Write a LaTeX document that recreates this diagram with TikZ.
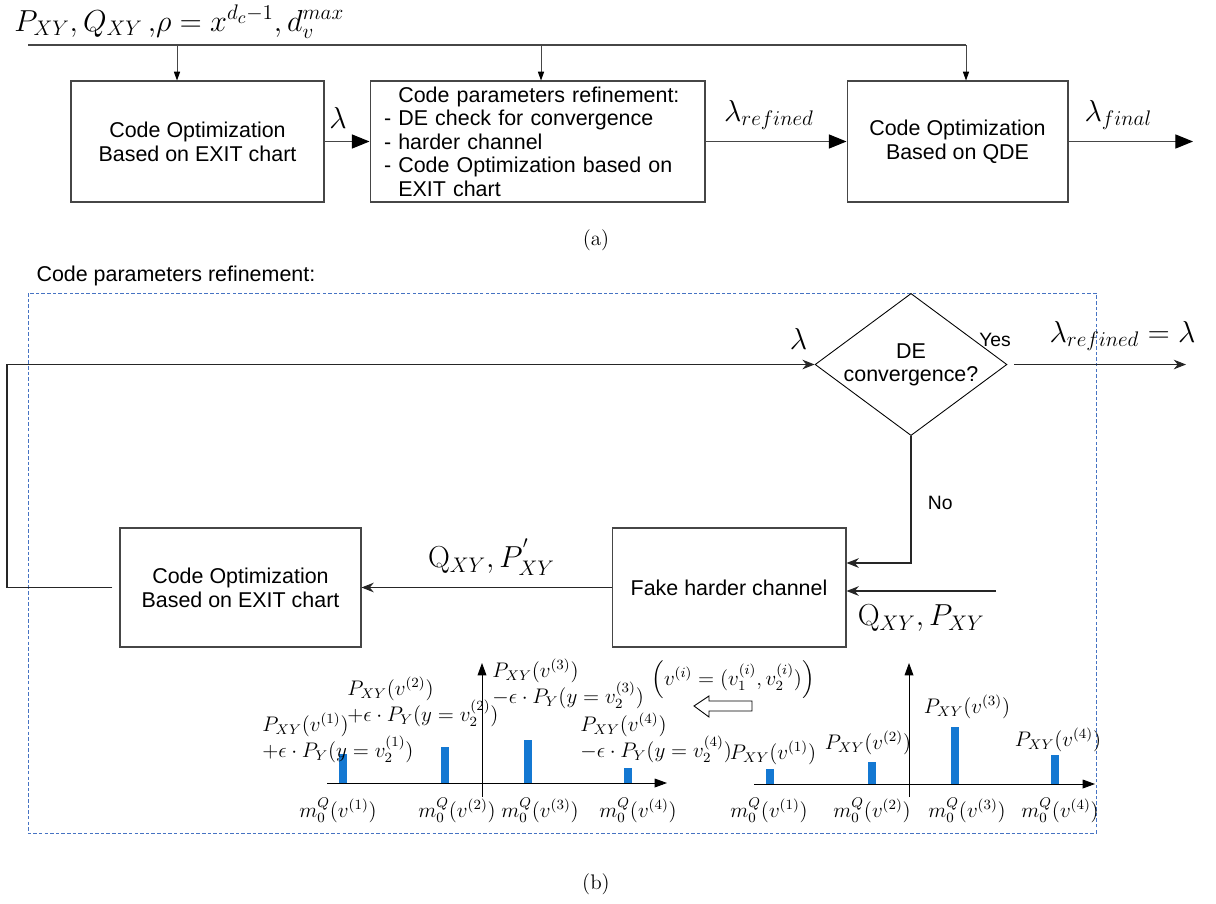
\documentclass[tikz,border=0pt]{standalone}
\usepackage{amsmath}
\usepackage{fontspec}
\setsansfont{Liberation Sans}
\usepackage{tikz}
\usetikzlibrary{shapes.geometric, arrows.meta, positioning, calc}
\definecolor{myline}{RGB}{70,70,70}
\definecolor{myframe}{RGB}{70,115,195}
\definecolor{mybar}{RGB}{20,120,210}
\tikzset{
  block/.style={rectangle, draw=myline, line width=0.6pt, align=center,
    font=\sffamily\fontsize{12.2}{13.6}\selectfont, inner sep=2pt},
  decision/.style={diamond, draw=black, line width=0.5pt, aspect=1.35,
    minimum width=3.8cm, minimum height=2.82cm, inner sep=0pt, align=center,
    font=\sffamily\fontsize{12.2}{13.2}\selectfont},
  bigarrow/.style={-{Triangle[length=10pt, width=8pt, color=black]}, line width=0.6pt, color=myline},
  smallarrow/.style={-{Triangle[length=5pt, width=3.5pt, color=black]}, line width=0.5pt, color=myline},
  arrow/.style={-{Stealth[length=7pt, width=5.5pt]}, line width=0.6pt, color=black!85},
  axis/.style={-{Triangle[length=7pt, width=5pt]}, line width=0.5pt},
  line/.style={line width=0.6pt, color=myline},
  frame/.style={draw=myframe, line width=0.5pt, dash pattern=on 2pt off 1.2pt},
  lbl/.style={font=\LARGE, text=black},
  plbl/.style={font=\large, inner sep=0pt},
  small/.style={font=\sffamily\fontsize{11}{13}\selectfont, text=black},
  capt/.style={font=\large}
}

\begin{document}
\begin{tikzpicture}[x=0.02cm, y=-0.02cm]
  \useasboundingbox (0,0) rectangle (1216,903);
  % ── (a) Design flow ─────────────────────────────────────────────────────────
  \node[lbl, anchor=base west, inner sep=0pt] (params) at (14,31)
    {$P_{XY}, Q_{XY}\,{,}\rho = x^{d_c-1}, d_v^{max}$};
  \node[block, minimum width=5.06cm, minimum height=2.42cm] (exitA) at (197.5,141.5)
    {Code Optimization\\Based on EXIT chart};
  \node[block, minimum width=6.7cm, minimum height=2.42cm, inner xsep=0.28cm,
    text width=6.14cm, align=left, font=\sffamily\fontsize{12.2}{13.4}\selectfont] (refine) at (537.5,141.5)
    {\phantom{- }Code parameters refinement:\\- DE check for convergence\\- harder channel\\- Code Optimization based on\\\phantom{- }EXIT chart};
  \node[block, minimum width=4.42cm, minimum height=2.42cm] (qde) at (957.5,141.5)
    {Code Optimization\\Based on QDE};
  % Inputs
  \coordinate (feed) at (28,45);
  \coordinate (tapA) at (177,45);
  \coordinate (tapB) at (541,45);
  \coordinate (tapC) at (966,45);
  \draw[line] (feed) -- (tapC);
  \draw[smallarrow] (tapA) -- (tapA |- exitA.north);
  \draw[smallarrow] (tapB) -- (tapB |- refine.north);
  \draw[smallarrow] (tapC) -- (tapC |- qde.north);
  % Outputs
  \coordinate (outA) at (1193,141.5);
  \draw[bigarrow] (exitA) -- node[lbl, above=4pt, pos=0.3] {$\lambda$} (refine);
  \draw[bigarrow] (refine) -- node[lbl, above=3pt, pos=0.45] {$\lambda_{refined}$} (qde);
  \draw[bigarrow] (qde) -- node[lbl, above=3pt, pos=0.4] {$\lambda_{final}$} (outA);
  \node[capt] (captA) at (596,240) {(a)};

  % ── (b) Code parameters refinement ──────────────────────────────────────────
  \node[block, anchor=west, draw=none, inner sep=0pt] (hdrB) at (36,276) {Code parameters refinement:};
  \draw[frame] (28,293) rectangle (1096,833);
  \node[decision] (dec) at (911,364.5) {DE\\convergence?};
  \node[block, minimum width=4.82cm, minimum height=2.38cm] (exitB) at (240.5,587.5)
    {Code Optimization\\Based on EXIT chart};
  \node[block, minimum width=4.68cm, minimum height=2.38cm] (fake) at (729,587.5)
    {Fake harder channel};
  \coordinate (loop) at (7,364.5);
  \coordinate (refout) at (1186,364.5);
  \coordinate (qin) at (996,591);
  \draw[arrow] ([xshift=-0.14cm]exitB.west) -| (loop)
    -- node[lbl, above=5pt, pos=0.98] {$\lambda$} (dec.west);
  \draw[arrow] ([xshift=0.14cm]dec.east) -- node[lbl, above=4pt, pos=0.63] {$\lambda_{refined} = \lambda$} (refout);
  \node[small] (yes) at (995,340) {Yes};
  \draw[arrow] (dec.south) |- node[small, right=6pt, pos=0.265] {No} ([yshift=0.49cm]fake.east);
  \draw[arrow] (qin) -- node[lbl, below=4pt, midway] {$\mathrm{Q}_{XY}, P_{XY}$} (qin -| fake.east);
  \draw[arrow] (fake.west) -- node[lbl, above=3pt, pos=0.48] {$\mathrm{Q}_{XY}, P_{XY}^{'}$} (exitB.east);

  % ── Shifted distribution ───────────────────────────────────────────────────
  \draw[axis] (327,783) -- (667,783);
  \draw[axis] (482,797) -- (482,663);
  \foreach \bx/\by in {343/754, 445/747, 528/740, 628/768}
    \fill[mybar] ({\bx-4},783) rectangle ({\bx+4},\by);
  \foreach \lx/\ly/\i/\sg in {262/731/1/+, 347/695/2/+, 492/677/3/-, 580/731/4/-} {
    \node[plbl, anchor=base west] (pa\i) at (\lx,\ly) {$P_{XY}(v^{(\i)})$};
    \node[plbl, anchor=base west] (pb\i) at (\lx,\ly+26) {$\sg\epsilon\cdot P_Y(y=v_2^{(\i)})$};
  }
  \foreach \mx/\i in {338/1, 457/2, 540/3, 638/4}
    \node[plbl] (mL\i) at (\mx,810) {$m_0^Q(v^{(\i)})$};

  % ── Original distribution ──────────────────────────────────────────────────
  \draw[axis] (754,784) -- (1095,784);
  \draw[axis] (909,797) -- (909,663);
  \foreach \bx/\by in {770/769, 872/762, 955/727, 1055/755}
    \fill[mybar] ({\bx-4},784) rectangle ({\bx+4},\by);
  \foreach \px/\py/\i in {773/753/1, 868/743/2, 967/707/3, 1058/740/4}
    \node[plbl] (pR\i) at (\px,\py) {$P_{XY}(v^{(\i)})$};
  \foreach \mx/\i in {769/1, 872/2, 967/3, 1060/4}
    \node[plbl] (mR\i) at (\mx,810) {$m_0^Q(v^{(\i)})$};

  % Hollow arrow and notation
  \draw[line width=0.5pt, fill=white] (694,706) -- (709,696) -- (709,701) -- (752,701)
    -- (752,711) -- (709,711) -- (709,717) -- cycle;
  \node[plbl] (vdef) at (733,680) {$\Bigl(v^{(i)} = (v_1^{(i)}, v_2^{(i)})\Bigr)$};
  \node[capt] (captB) at (596,884) {(b)};
\end{tikzpicture}
\end{document}
